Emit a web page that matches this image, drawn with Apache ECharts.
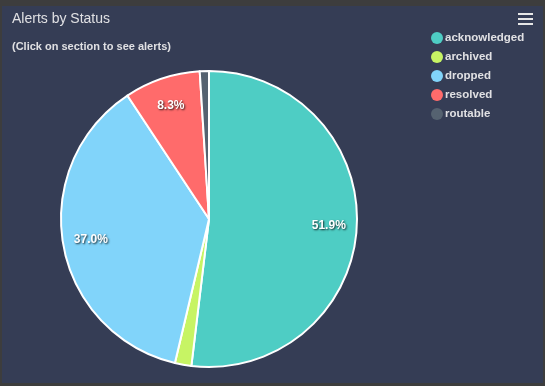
<!DOCTYPE html>
<html>
<head>
<meta charset="utf-8">
<script src="https://cdn.jsdelivr.net/npm/echarts@6/dist/echarts.min.js"></script>
<style>
html,body{margin:0;padding:0;background:#3d3d3d;width:545px;height:386px;overflow:hidden;}
#chart{position:absolute;left:2px;top:6px;width:541px;height:377px;background:#353d55;}
</style>
</head>
<body>
<div id="chart"></div>
<script>
const categories = ['acknowledged', 'archived', 'dropped', 'resolved', 'routable'];
const values = [519, 18, 370, 83, 10];
const colors = ['#4ecdc4', '#c7f464', '#81d4fa', '#ff6b6b', '#556270'];
const titleText = 'Alerts by Status';
const subtitleText = '(Click on section to see alerts)';

const chart = echarts.init(document.getElementById('chart'), null, {renderer: 'canvas'});
const data = categories.map((c, i) => ({name: c, value: values[i], itemStyle: {color: colors[i]}}));
const FONT = '"Liberation Sans", Arial, sans-serif';

chart.setOption({
  backgroundColor: '#353d55',
  animation: false,
  title: [
    {text: titleText, left: 10, top: 6, padding: 0, textStyle: {color: '#e0e0e3', fontSize: 14, fontWeight: 'normal', fontFamily: FONT}},
    {text: subtitleText, left: 10, top: 35, padding: 0, textStyle: {color: '#e0e0e3', fontSize: 11, fontWeight: 'bold', fontFamily: FONT}}
  ],
  legend: {
    orient: 'vertical',
    left: 429,
    top: 26,
    padding: 0,
    icon: 'circle',
    itemWidth: 12,
    itemHeight: 12,
    itemGap: 7,
    data: categories,
    itemStyle: {borderWidth: 0},
    textStyle: {color: '#e0e0e3', fontSize: 11.5, fontWeight: 'bold', fontFamily: FONT, padding: [0, 0, 0, -3]}
  },
  graphic: [
    {type: 'rect', left: 516, top: 7, shape: {width: 15, height: 2}, style: {fill: '#e6e6e6'}},
    {type: 'rect', left: 516, top: 12, shape: {width: 15, height: 2}, style: {fill: '#e6e6e6'}},
    {type: 'rect', left: 516, top: 17, shape: {width: 15, height: 2}, style: {fill: '#e6e6e6'}}
  ],
  series: [
    {
      type: 'pie',
      center: [207, 213],
      radius: [0, 148],
      startAngle: 90,
      clockwise: true,
      percentPrecision: 1,
      data: data,
      label: {show: false},
      labelLine: {show: false},
      itemStyle: {borderColor: '#ffffff', borderWidth: 2},
      emphasis: {scale: false}
    },
    {
      type: 'pie',
      center: [207, 213],
      radius: [86, 148],
      startAngle: 90,
      clockwise: true,
      percentPrecision: 1,
      silent: true,
      data: categories.map((c, i) => ({name: c, value: values[i]})),
      itemStyle: {color: 'rgba(0,0,0,0)', borderWidth: 0},
      labelLine: {show: false},
      label: {
        show: true,
        position: 'inside',
        formatter: p => p.percent < 5 ? '' : p.percent.toFixed(1) + '%',
        color: '#ffffff',
        fontSize: 12,
        fontWeight: 'bold',
        fontFamily: FONT,
        textShadowColor: 'rgba(0,0,0,0.8)',
        textShadowBlur: 2,
        textShadowOffsetX: 1,
        textShadowOffsetY: 1
      },
      emphasis: {disabled: true}
    }
  ]
});
</script>
</body>
</html>
